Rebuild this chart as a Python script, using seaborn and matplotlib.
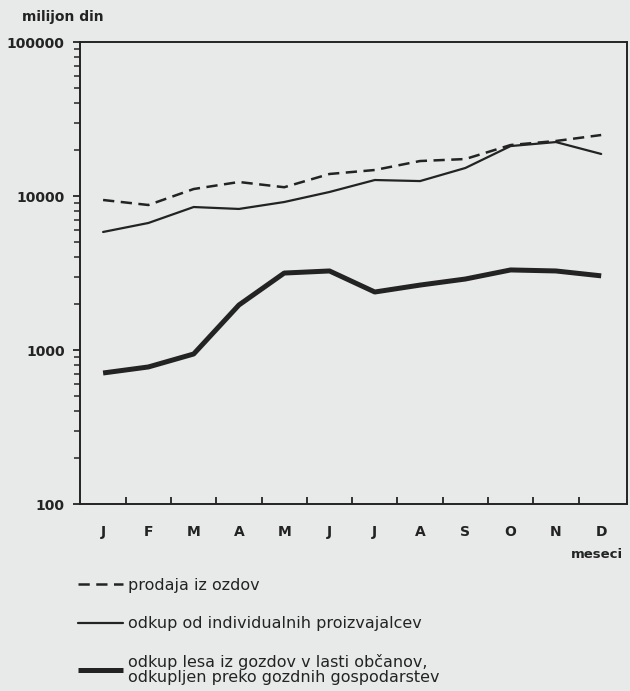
import numpy as np
import pandas as pd
import matplotlib
matplotlib.use("Agg")
import matplotlib.pyplot as plt
from matplotlib.ticker import FixedLocator, LogLocator, NullFormatter
import seaborn as sns

months = ["J", "F", "M", "A", "M", "J", "J", "A", "S", "O", "N", "D"]
prodaja = [9420, 8740, 11100, 12330, 11400, 13900, 14750, 16870, 17380, 21430, 22760, 24890]
individualni = [5840, 6680, 8480, 8240, 9140, 10620, 12700, 12500, 15200, 21100, 22400, 18750]
obcani = [709, 776, 942, 1960, 3160, 3260, 2380, 2640, 2890, 3310, 3260, 3030]
labels = ["prodaja iz ozdov",
          "odkup od individualnih proizvajalcev",
          "odkup lesa iz gozdov v lasti občanov,\nodkupljen preko gozdnih gospodarstev"]
y_ticks = [100, 1000, 10000, 100000]

sns.set_theme(style="ticks")
bg = "#e8eaea"
ink = "#232323"
plt.rcParams["font.family"] = ["DejaVu Sans"]
plt.rcParams["axes.edgecolor"] = ink
plt.rcParams["xtick.color"] = ink
plt.rcParams["ytick.color"] = ink
plt.rcParams["text.color"] = ink

fig = plt.figure(figsize=(6.3, 6.91), dpi=100, facecolor=bg)
ax = fig.add_axes([80/630, 1-504/691, (627-80)/630, (504-42)/691])
ax.set_facecolor(bg)

x = np.arange(len(months))
df = pd.DataFrame({"x": x, "prodaja": prodaja, "ind": individualni, "obc": obcani})

sns.lineplot(data=df, x="x", y="prodaja", ax=ax, color=ink, lw=1.8,
             linestyle=(0, (4.5, 2.6)), label=labels[0])
sns.lineplot(data=df, x="x", y="ind", ax=ax, color=ink, lw=1.6, label=labels[1])
sns.lineplot(data=df, x="x", y="obc", ax=ax, color=ink, lw=3.6,
             solid_capstyle="butt", label=labels[2])

ax.set_yscale("log")
ax.set_ylim(100, 100000)
ax.set_xlim(-0.51, 11.57)
ax.set_xlabel("")
ax.set_ylabel("")

ax.yaxis.set_major_locator(FixedLocator(y_ticks))
ax.set_yticklabels([str(v) for v in y_ticks], fontsize=10, fontweight="bold")
ax.yaxis.set_minor_locator(LogLocator(base=10, subs=np.arange(2, 10)))
ax.yaxis.set_minor_formatter(NullFormatter())
ax.tick_params(axis="y", which="major", direction="out", length=5, width=1.3, pad=6)
ax.tick_params(axis="y", which="minor", direction="out", length=4, width=1.1)

ax.set_xticks(x)
ax.set_xticklabels(months, fontsize=10, fontweight="bold")
ax.xaxis.set_minor_locator(FixedLocator(np.arange(0.5, 11, 1.0)))
ax.tick_params(axis="x", which="major", length=0, pad=15)
ax.tick_params(axis="x", which="minor", direction="in", length=5, width=1.3)

for s in ax.spines.values():
    s.set_linewidth(1.4)
    s.set_color(ink)

fig.text(22/630, 1-17/691, "milijon din", fontsize=10, fontweight="bold",
         ha="left", va="center")
fig.text(623/630, 1-555/691, "meseci", fontsize=9.5, fontweight="bold",
         ha="right", va="center")

ax.legend_.remove()
h, l = ax.get_legend_handles_labels()
leg = fig.legend(h, l, loc="upper left", bbox_to_anchor=(78/630, 1-578/691),
                 frameon=False, fontsize=11.5, handlelength=2.8,
                 handletextpad=0.35, labelspacing=1.45, borderpad=0,
                 borderaxespad=0)
leg.get_texts()[2].set_linespacing(1.0)

fig.savefig("out.png", dpi=100, facecolor=bg)
